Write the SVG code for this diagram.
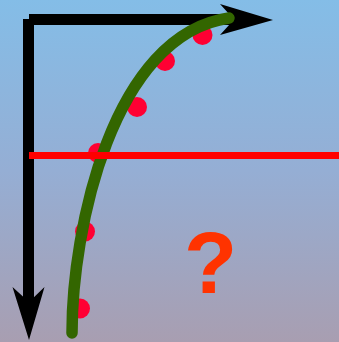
<svg xmlns="http://www.w3.org/2000/svg" width="339" height="342" viewBox="0 0 339 342">
<defs>
<linearGradient id="bg" x1="0" y1="0" x2="0" y2="1">
<stop offset="0" stop-color="#84BDE7"/>
<stop offset="0.5" stop-color="#95AED4"/>
<stop offset="1" stop-color="#A89EB1"/>
</linearGradient>
<style>
.axis{stroke:#000;stroke-width:11;fill:none}
.head{fill:#000}
.dot{fill:#FF0033}
</style>
</defs>
<rect width="339" height="342" fill="url(#bg)"/>
<g id="axes">
<line class="axis" x1="28.5" y1="19" x2="28.5" y2="305"/>
<line class="axis" x1="29" y1="19.5" x2="235" y2="19.5"/>
<polygon class="head" points="12.5,287 29,302 44.5,287 29,340"/>
<polygon class="head" points="220,4 234,19.5 220,35 273,20"/>
</g>
<g id="dots">
<circle class="dot" cx="202.5" cy="35" r="10"/>
<circle class="dot" cx="165" cy="61" r="10"/>
<circle class="dot" cx="137" cy="107" r="10"/>
<circle class="dot" cx="98" cy="153" r="10"/>
<circle class="dot" cx="85" cy="231.5" r="10"/>
<circle class="dot" cx="80" cy="308.5" r="10"/>
</g>
<g id="curve">
<path d="M72,333 C72,230 112,35 229,18" stroke="#336600" stroke-width="11.5" fill="none" stroke-linecap="round"/>
</g>
<g id="line">
<line x1="29" y1="155.5" x2="339" y2="155.5" stroke="#FF0000" stroke-width="7"/>
</g>
<text x="210.5" y="293" text-anchor="middle" font-family="Liberation Sans, Arial, sans-serif" font-weight="bold" font-size="87" fill="#FF3300">?</text>
</svg>
